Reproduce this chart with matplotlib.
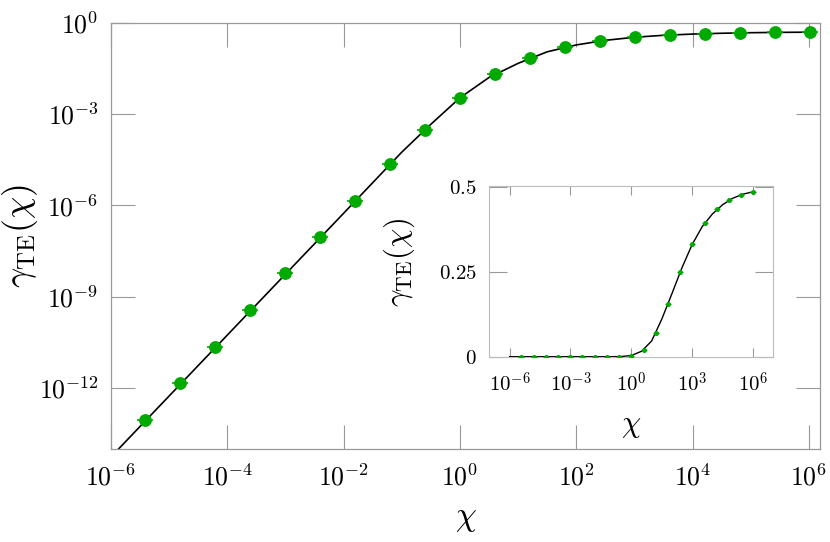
import numpy as np
import matplotlib
matplotlib.use('Agg')
import matplotlib.pyplot as plt

plt.rcParams['mathtext.fontset'] = 'cm'
plt.rcParams['font.family'] = 'DejaVu Serif'

# sample points (chi = 4^k, k = -9..10)
chi_pts = [3.81e-6, 1.53e-5, 6.10e-5, 2.44e-4, 9.77e-4, 3.91e-3, 1.56e-2, 6.25e-2,
           0.25, 1.0, 4.0, 16.0, 64.0, 256.0, 1024.0, 4096.0, 16384.0, 65536.0,
           262144.0, 1048576.0]
gamma_pts = [9.1e-14, 1.45e-12, 2.3e-11, 3.6e-10, 5.8e-9, 9.0e-8, 1.4e-6, 2.2e-5,
             3.0e-4, 3.4e-3, 0.0210, 0.070, 0.155, 0.250, 0.331, 0.394, 0.434,
             0.461, 0.477, 0.485]

# continuous curve, read at half-decade steps
chi_line = [1e-6, 1e-5, 1e-4, 1e-3, 1e-2, 1e-1, 3.16e-1, 1.0, 3.16, 10.0, 31.6,
            100.0, 316.0, 1e3, 3.16e3, 1e4, 3.16e4, 1e5, 3.16e5, 1e6]
gamma_line = [5.5e-15, 5.5e-13, 5.5e-11, 5.5e-9, 5.5e-7, 5.6e-5, 4.6e-4, 3.4e-3,
              0.0158, 0.046, 0.110, 0.185, 0.262, 0.330, 0.383, 0.420, 0.447,
              0.466, 0.478, 0.485]

main_yticks = [1e0, 1e-3, 1e-6, 1e-9, 1e-12]
main_yticklabels = ['$10^{0}$', '$10^{-3}$', '$10^{-6}$', '$10^{-9}$', '$10^{-12}$']
main_xticks = [1e-6, 1e-4, 1e-2, 1e0, 1e2, 1e4, 1e6]
main_xticklabels = ['$10^{-6}$', '$10^{-4}$', '$10^{-2}$', '$10^{0}$', '$10^{2}$',
                    '$10^{4}$', '$10^{6}$']
ins_xticks = [1e-6, 1e-3, 1e0, 1e3, 1e6]
ins_xticklabels = ['$10^{-6}$', '$10^{-3}$', '$10^{0}$', '$10^{3}$', '$10^{6}$']
ins_yticks = [0, 0.25, 0.5]
ins_yticklabels = ['$0$', '$0.25$', '$0.5$']

green = '#00aa00'
gray = '#999999'

fig = plt.figure(figsize=(8.3, 5.42), dpi=100)

# main log-log axes
ax = fig.add_axes([0.1337, 0.1716, 0.988 - 0.1337, 0.9583 - 0.1716])
ax.set_xscale('log')
ax.set_yscale('log')
ax.plot(chi_line, gamma_line, color='black', lw=1.2, zorder=2)
ax.plot(chi_pts, gamma_pts, ls='none', marker='_', ms=12, mew=1.2, color=green, zorder=3)
ax.plot(chi_pts, gamma_pts, ls='none', marker='o', ms=8.2, color=green, mec=green, zorder=3)
ax.set_xlim(1e-6, 10**6.19)
ax.set_ylim(1e-14, 1e0)
ax.set_xticks(main_xticks)
ax.set_xticklabels(main_xticklabels)
ax.set_yticks(main_yticks)
ax.set_yticklabels(main_yticklabels)
ax.minorticks_off()
ax.tick_params(which='major', direction='in', length=17, width=0.8, color=gray,
               top=True, right=True, labelsize=18.5)
ax.tick_params(axis='x', pad=11)
ax.tick_params(axis='y', pad=9)
for s in ax.spines.values():
    s.set_color(gray)
    s.set_linewidth(0.9)
ax.set_xlabel(r'$\chi$', fontsize=24, labelpad=8)
ax.set_ylabel(r'$\gamma_{\rm TE}(\chi)$', fontsize=25.5)
ax.yaxis.set_label_coords(-0.1, 0.5)

# inset: linear y, log x
ins = fig.add_axes([0.5895, 0.3419, 0.9317 - 0.5895, 0.6574 - 0.3419])
ins.set_xscale('log')
ins.plot(chi_line, gamma_line, color='black', lw=1.0, zorder=2)
ins.plot(chi_pts, gamma_pts, ls='none', marker='_', ms=5, mew=0.8, color=green, zorder=3)
ins.plot(chi_pts, gamma_pts, ls='none', marker='o', ms=2.6, color=green, mec=green, zorder=3)
ins.set_xlim(1e-7, 1e7)
ins.set_ylim(0, 0.503)
ins.set_xticks(ins_xticks)
ins.set_xticklabels(ins_xticklabels)
ins.set_yticks(ins_yticks)
ins.set_yticklabels(ins_yticklabels)
ins.minorticks_off()
ins.tick_params(direction='in', color=gray, width=0.8, top=True, right=True, labelsize=15)
ins.tick_params(axis='x', length=6.5, pad=11)
ins.tick_params(axis='y', length=13, pad=9)
for s in ins.spines.values():
    s.set_color('#bbbbbb')
    s.set_linewidth(0.8)
ins.set_xlabel(r'$\chi$', fontsize=22, labelpad=9)
ins.set_ylabel(r'$\gamma_{\rm TE}(\chi)$', fontsize=22)
ins.yaxis.set_label_coords(-0.2546, 0.55)

fig.savefig('out.png', dpi=100)
